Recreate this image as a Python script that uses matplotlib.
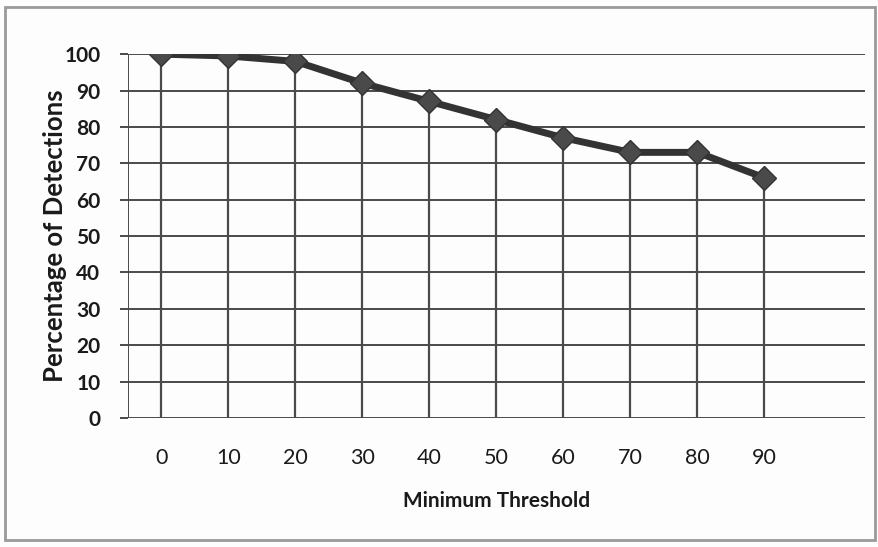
import matplotlib
matplotlib.use("Agg")
import matplotlib.pyplot as plt
from matplotlib.patches import Rectangle

thresholds = ["0", "10", "20", "30", "40", "50", "60", "70", "80", "90"]
detections = [100, 99.5, 98, 92, 87, 82, 77, 73, 73, 66]
y_ticks = [0, 10, 20, 30, 40, 50, 60, 70, 80, 90, 100]

plt.rcParams['font.family'] = ['Lato', 'DejaVu Sans']

fig = plt.figure(figsize=(8.79, 5.47), dpi=100)
fig.patch.set_facecolor('#fdfdfd')
ax = fig.add_axes([0.1456, 0.236, 0.984 - 0.1456, 0.901 - 0.236])
ax.set_facecolor('none')

grid_c = '#4a4a4a'
x = list(range(len(thresholds)))

for yt in y_ticks:
    ax.axhline(yt, color=grid_c, lw=1.4, zorder=1)
ax.axvline(-0.5, ymin=0, ymax=1, color=grid_c, lw=1.4, zorder=1)
ax.vlines(x, 0, detections, color=grid_c, lw=1.6, zorder=2)

ax.plot(x, detections, color='#333333', lw=5, marker='D', markersize=12,
        markerfacecolor='#4a4a4a', markeredgecolor='#333333', zorder=3)

ax.set_xlim(-0.5, 10.5)
ax.set_ylim(0, 100)
ax.set_xticks(x)
ax.set_xticklabels(thresholds, fontsize=15.5, color='#1a1a1a')
ax.set_yticks(y_ticks)
ax.set_yticklabels([str(v) for v in y_ticks], fontsize=15, fontweight='bold', color='#1a1a1a')
ax.tick_params(axis='y', length=6, width=1.4, color=grid_c, direction='out', pad=14)
ax.tick_params(axis='x', length=0, pad=22)
for s in ax.spines.values():
    s.set_visible(False)

ax.set_xlabel("Minimum Threshold", fontsize=15, fontweight='bold', color='#1a1a1a', labelpad=16)
ax.set_ylabel("Percentage of Detections", fontsize=18.5, fontweight='bold', color='#1a1a1a', labelpad=-2)

fig.add_artist(Rectangle((0.006, 0.012), 0.99, 0.975, transform=fig.transFigure,
                         fill=False, edgecolor='#9a9a9a', lw=2))

fig.savefig("out.png", dpi=100, facecolor=fig.get_facecolor())
